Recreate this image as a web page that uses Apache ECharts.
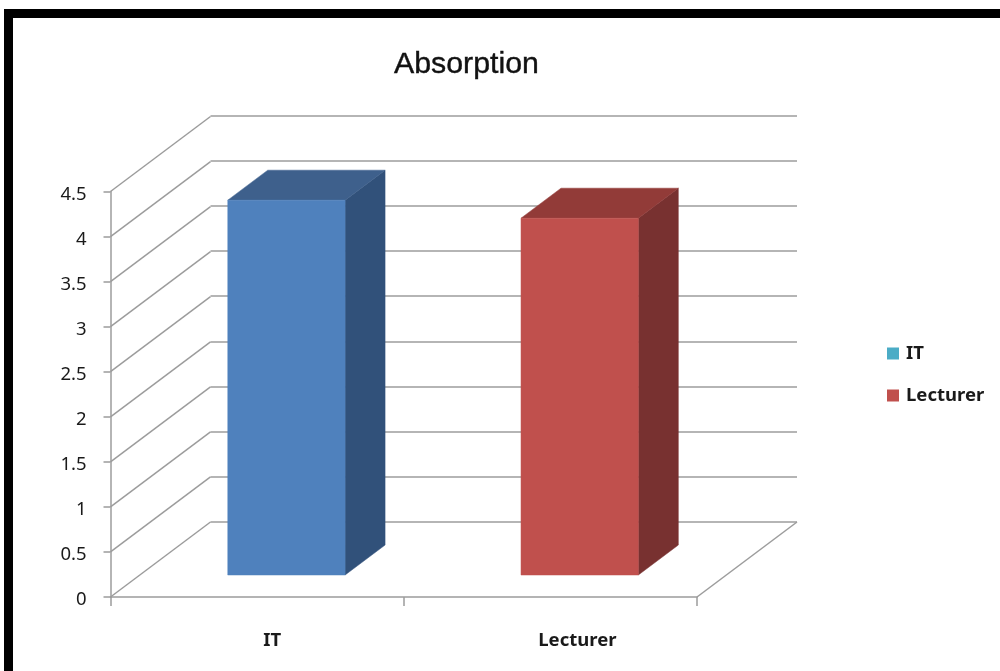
<!DOCTYPE html>
<html>
<head>
<meta charset="utf-8">
<style>html,body{margin:0;padding:0;background:#fff}#chart{width:1000px;height:671px}</style>
<script src="https://cdn.jsdelivr.net/npm/echarts@6/dist/echarts.min.js"></script>
</head>
<body>
<div id="chart"></div>
<script>
// Chart content
const categories = ['IT', 'Lecturer'];
const seriesNames = ['IT', 'Lecturer'];
const itValues = [[0, 4.16]];
const lecturerValues = [[1, 3.96]];
const yTicks = [0, 0.5, 1, 1.5, 2, 2.5, 3, 3.5, 4, 4.5];

// Colours: front, top and side faces of each column
const faces = {
  IT: ['#4F81BD', '#3E608C', '#31517A'],
  Lecturer: ['#C0504D', '#923B38', '#783130']
};
const legendColors = { IT: '#4BACC6', Lecturer: '#C0504D' };
const gridColor = '#9c9c9c';
const textColor = '#1a1a1a';
const fontFamily = '"Noto Sans", "DejaVu Sans", sans-serif';

// Oblique projection: the floor is 100px wide and 75px tall on screen
const wall = { dx: 100, dy: -75 };
const columnShift = 0.293;  // column front sits this far back on the floor
const columnDepth = 0.4;    // column depth as a share of the floor
const columnWidth = 0.4;    // column width as a share of the band

function renderColumn(colors) {
  return function (params, api) {
    const band = api.size([1, 0])[0];
    const foot = api.coord([api.value(0), 0]);
    const head = api.coord([api.value(0), api.value(1)]);
    const sx = wall.dx * columnShift, sy = wall.dy * columnShift;
    const dx = wall.dx * columnDepth, dy = wall.dy * columnDepth;
    const l = foot[0] + sx - band * columnWidth / 2;
    const r = l + band * columnWidth;
    const b = foot[1] + sy;
    const t = head[1] + sy;
    const poly = (points, fill) => ({
      type: 'polygon',
      shape: { points },
      style: { fill, stroke: fill, lineWidth: 0.5 }
    });
    return {
      type: 'group',
      children: [
        poly([[r, t], [r + dx, t + dy], [r + dx, b + dy], [r, b]], colors[2]),
        poly([[l, t], [l + dx, t + dy], [r + dx, t + dy], [r, t]], colors[1]),
        poly([[l, t], [r, t], [r, b], [l, b]], colors[0])
      ]
    };
  };
}

// Diagonals running from each value tick back to the wall, plus the floor's right edge
function renderDiagonal(params, api) {
  const p = api.coord([0, api.value(0)]);
  const x0 = params.coordSys.x;
  const line = (x, y) => ({
    type: 'line',
    shape: { x1: x, y1: y, x2: x + wall.dx, y2: y + wall.dy },
    style: { stroke: gridColor, lineWidth: 1.5 }
  });
  const children = [line(x0, p[1])];
  if (params.dataIndex === 0) {
    children.push(line(x0 + params.coordSys.width, p[1]));
  }
  return { type: 'group', children };
}

const chart = echarts.init(document.getElementById('chart'), null, { renderer: 'canvas' });

chart.setOption({
  backgroundColor: '#fff',
  animation: false,
  title: {
    text: 'Absorption',
    left: 394,
    top: 50,
    padding: 0,
    textStyle: {
      fontFamily: '"Liberation Sans", Arial, sans-serif',
      fontSize: 30.3,
      fontWeight: 'normal',
      color: '#111',
      textBorderColor: '#111',
      textBorderWidth: 0.4
    }
  },
  legend: {
    orient: 'vertical',
    left: 887,
    top: 344,
    padding: 0,
    itemWidth: 12,
    itemHeight: 12,
    itemGap: 23,
    icon: 'rect',
    textStyle: { fontFamily, fontSize: 18.5, fontWeight: 'bold', color: textColor, padding: [0, 0, 0, 2] },
    data: seriesNames.map(name => ({ name, itemStyle: { color: legendColors[name] } }))
  },
  grid: [
    { left: 110.5, top: 191.5, width: 586.5, height: 405.5 },
    { left: 210.5, top: 115.5, width: 586.5, height: 406.5 }
  ],
  xAxis: [
    {
      type: 'category',
      gridIndex: 0,
      data: categories,
      axisLine: { lineStyle: { color: gridColor, width: 1.5 } },
      axisTick: { show: true, length: 9, lineStyle: { color: gridColor, width: 1.5 } },
      axisLabel: {
        margin: 34,
        interval: 0,
        formatter: v => `{${v === 'IT' ? 'a' : 'b'}|${v}}`,
        rich: {
          a: { fontFamily, fontSize: 18.5, fontWeight: 'bold', color: textColor, padding: [0, 0, 0, 30] },
          b: { fontFamily, fontSize: 18.5, fontWeight: 'bold', color: textColor, padding: [0, 0, 0, 54] }
        }
      }
    },
    { type: 'category', gridIndex: 1, data: categories, show: false }
  ],
  yAxis: [
    {
      type: 'value',
      gridIndex: 0,
      min: 0,
      max: 4.5,
      interval: 0.5,
      axisLine: { show: true, lineStyle: { color: gridColor, width: 1.5 } },
      axisTick: { show: true, length: 7, lineStyle: { color: gridColor, width: 1.5 } },
      axisLabel: {
        margin: 24,
        formatter: v => `{n|${v}}`,
        rich: { n: { fontFamily, fontSize: 18.5, color: textColor, padding: [6, 0, 0, 0] } }
      },
      splitLine: { show: false }
    },
    {
      type: 'value',
      gridIndex: 1,
      min: 0,
      max: 4.5,
      interval: 0.5,
      axisLine: { show: false },
      axisTick: { show: false },
      axisLabel: { show: false },
      splitLine: { show: true, lineStyle: { color: gridColor, width: 1.5 } }
    }
  ],
  series: [
    {
      type: 'custom',
      name: 'wall-depth',
      xAxisIndex: 0,
      yAxisIndex: 0,
      renderItem: renderDiagonal,
      encode: { y: 0 },
      data: yTicks.map(v => [v]),
      silent: true,
      z: 1
    },
    {
      type: 'custom',
      name: seriesNames[0],
      xAxisIndex: 0,
      yAxisIndex: 0,
      renderItem: renderColumn(faces.IT),
      encode: { x: 0, y: 1 },
      data: itValues,
      itemStyle: { color: legendColors.IT },
      z: 3
    },
    {
      type: 'custom',
      name: seriesNames[1],
      xAxisIndex: 0,
      yAxisIndex: 0,
      renderItem: renderColumn(faces.Lecturer),
      encode: { x: 0, y: 1 },
      data: lecturerValues,
      itemStyle: { color: legendColors.Lecturer },
      z: 3
    }
  ],
  graphic: [
    // Black frame along the top and left edges
    { type: 'rect', shape: { x: 4, y: 9, width: 996, height: 9 }, style: { fill: '#000' } },
    { type: 'rect', shape: { x: 4, y: 9, width: 9, height: 662 }, style: { fill: '#000' } }
  ]
});
</script>
</body>
</html>
